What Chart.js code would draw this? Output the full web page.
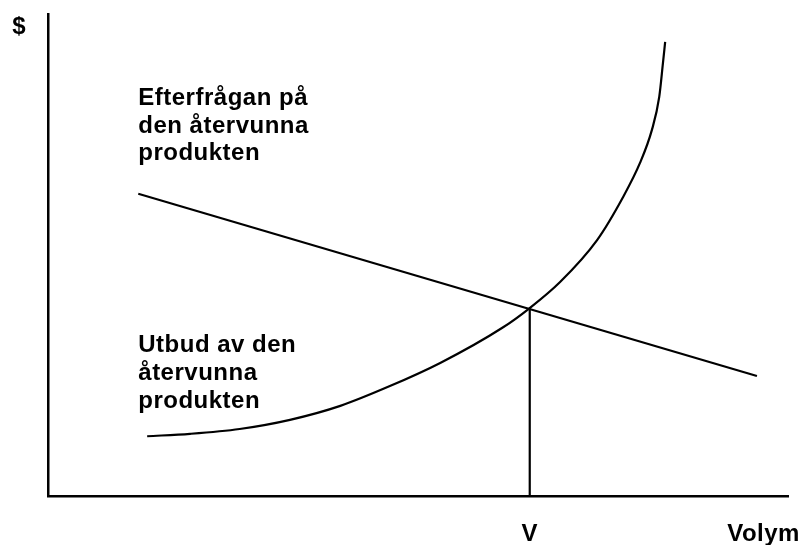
<!DOCTYPE html>
<html>
<head>
<meta charset="utf-8">
<script src="https://cdn.jsdelivr.net/npm/chart.js@4"></script>
<style>
  html, body { margin: 0; padding: 0; background: #fff; }
  #wrap { width: 802px; height: 545px; }
</style>
</head>
<body>
<div id="wrap"><canvas id="diagram"></canvas></div>
<script>
// Main Variables
const demandX = [12.2, 95.8];
const demandY = [62.7, 24.9];
const supplyX = [13.4, 19.2, 25.9, 32.7, 39.5, 46.2, 53.0, 61.4, 65.1, 69.2, 74.2, 77.7, 80.0, 81.6, 82.6, 83.1, 83.4];
const supplyY = [12.4, 12.9, 13.9, 15.8, 18.7, 22.8, 27.6, 34.9, 39.0, 44.4, 53.1, 62.0, 69.1, 75.9, 82.8, 89.8, 94.2];
const eqX = 65.1;
const eqY = 39.0;
const xTickValues = [eqX, 96.7];
const xTickLabels = ['V', 'Volym'];
const yTickValues = [97.3];
const yTickLabels = ['$'];
const demandLabel = ['Efterfrågan på', 'den återvunna', 'produkten'];
const supplyLabel = ['Utbud av den', 'återvunna', 'produkten'];

const FAMILY = '"Liberation Sans", Arial, Helvetica, sans-serif';
const FONT = 'bold 24px ' + FAMILY;
const ctx = document.getElementById('diagram').getContext('2d');

function toPoints(xs, ys) {
  return xs.map((x, i) => ({ x: x, y: ys[i] }));
}

// text blocks inside the plot, anchored in data units
const textBlocks = [
  { lines: demandLabel, x: 12.2, y: 81.1, gap: 27.5 },
  { lines: supplyLabel, x: 12.2, y: 29.9, gap: 28 },
];

const spacingPlugin = {
  id: 'spacing',
  beforeDraw(chart) {
    chart.ctx.letterSpacing = '0.5px';
  },
};

const labelPlugin = {
  id: 'curveLabels',
  afterDatasetsDraw(chart) {
    const c = chart.ctx;
    const xs = chart.scales.x;
    const ys = chart.scales.y;
    c.save();
    c.font = FONT;
    c.letterSpacing = '0.5px';
    c.fillStyle = '#000';
    c.textAlign = 'left';
    c.textBaseline = 'alphabetic';
    textBlocks.forEach(block => {
      const px = xs.getPixelForValue(block.x);
      const py = ys.getPixelForValue(block.y);
      block.lines.forEach((line, i) => {
        c.fillText(line, px, py + i * block.gap);
      });
    });
    c.restore();
  },
};

const lineStyle = {
  borderColor: '#000',
  borderWidth: 2.2,
  pointRadius: 0,
  showLine: true,
  fill: false,
};

const tickFont = { family: FAMILY, size: 24, weight: 'bold' };

new Chart(ctx, {
  type: 'scatter',
  data: {
    datasets: [
      Object.assign({ label: 'Efterfrågan', data: toPoints(demandX, demandY), tension: 0 }, lineStyle),
      Object.assign({ label: 'Utbud', data: toPoints(supplyX, supplyY), cubicInterpolationMode: 'monotone' }, lineStyle),
      Object.assign({ label: 'V', data: [{ x: eqX, y: 0 }, { x: eqX, y: eqY }], tension: 0 }, lineStyle),
    ],
  },
  options: {
    responsive: true,
    maintainAspectRatio: false,
    animation: false,
    events: [],
    layout: { padding: { left: 0, top: 14, right: 14, bottom: 0 } },
    plugins: {
      legend: { display: false },
      tooltip: { enabled: false },
    },
    scales: {
      x: {
        type: 'linear',
        min: 0,
        max: 100,
        grid: { display: false, drawTicks: false },
        border: { display: true, color: '#000', width: 2.5 },
        afterBuildTicks(scale) {
          scale.ticks = xTickValues.map(v => ({ value: v }));
        },
        afterFit(scale) {
          scale.height = 49;
          scale.paddingLeft = 0;
          scale.paddingRight = 0;
        },
        ticks: {
          autoSkip: false,
          maxRotation: 0,
          padding: 24,
          color: '#000',
          font: tickFont,
          callback: (value) => xTickLabels[xTickValues.indexOf(value)],
        },
      },
      y: {
        type: 'linear',
        min: 0,
        max: 100,
        grid: { display: false, drawTicks: false },
        border: { display: true, color: '#000', width: 2.5 },
        afterBuildTicks(scale) {
          scale.ticks = yTickValues.map(v => ({ value: v }));
        },
        afterFit(scale) {
          scale.width = 48;
          scale.paddingTop = 0;
          scale.paddingBottom = 0;
        },
        ticks: {
          autoSkip: false,
          padding: 22,
          color: '#000',
          font: tickFont,
          callback: (value) => yTickLabels[yTickValues.indexOf(value)],
        },
      },
    },
  },
  plugins: [spacingPlugin, labelPlugin],
});
</script>
</body>
</html>
